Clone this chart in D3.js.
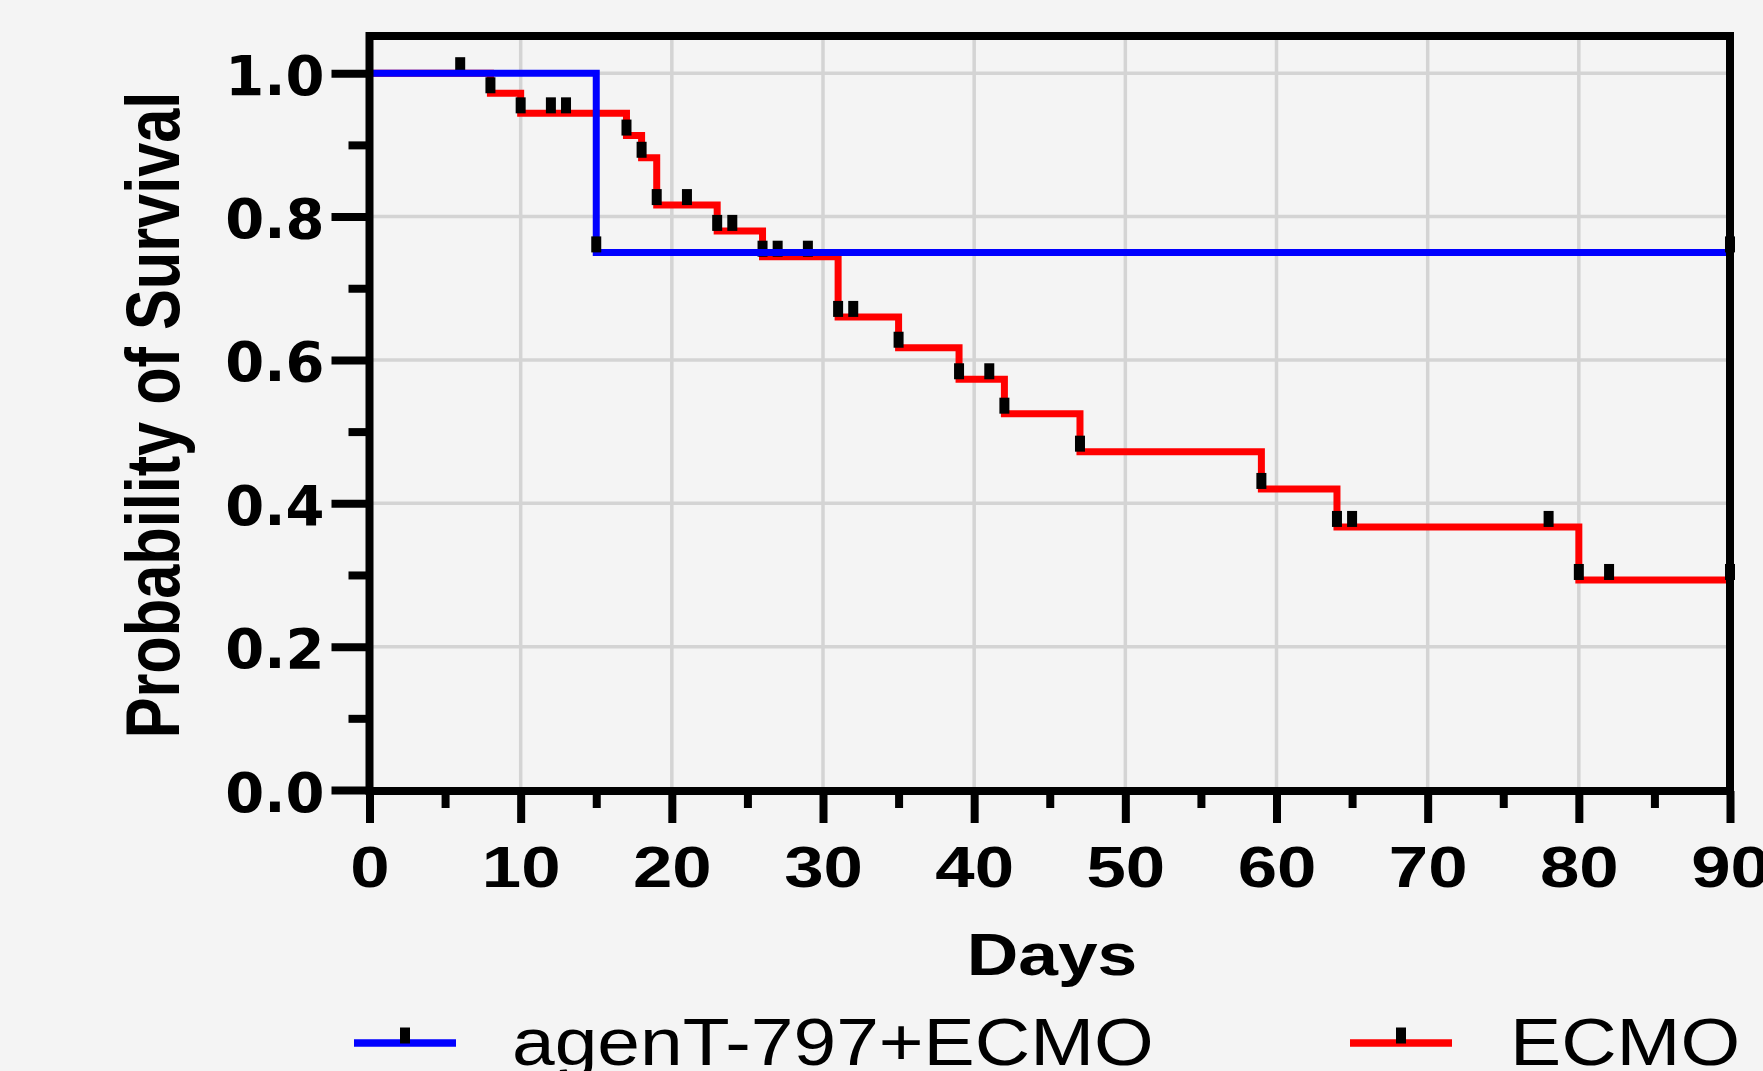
<!DOCTYPE html>
<html>
<head>
<meta charset="utf-8">
<script src="https://cdn.jsdelivr.net/npm/d3@7"></script>
<style>
	html, body { margin: 0; padding: 0; background: #f4f4f4; }
	svg { display: block; }
</style>
</head>
<body>
<svg id="chart"></svg>
<script>
// data (day of each step, survival after the step)
const ecmoDays = [0, 8, 10, 17, 18, 19, 23, 26, 31, 35, 39, 42, 47, 59, 64, 80, 90];
const ecmoSurv = [1, 0.972, 0.944, 0.913, 0.882, 0.816, 0.780, 0.744, 0.660, 0.617, 0.573, 0.525, 0.472, 0.420, 0.367, 0.293, 0.293];
const ecmoCensor = [6, 8, 10, 12, 13, 17, 18, 19, 21, 23, 24, 26, 27, 29, 31, 32, 35, 39, 41, 42, 47, 59, 64, 65, 78, 80, 82, 90];

const agentDays = [0, 15, 90];
const agentSurv = [1, 0.75, 0.75];
const agentCensor = [15, 90];

const xTicks = [0, 10, 20, 30, 40, 50, 60, 70, 80, 90];
const xMinor = [5, 15, 25, 35, 45, 55, 65, 75, 85];
const yTicks = [0, 0.2, 0.4, 0.6, 0.8, 1.0];
const yMinor = [0.1, 0.3, 0.5, 0.7, 0.9];

const seriesNames = ["agenT-797+ECMO", "ECMO"];
const seriesColors = ["#0000ff", "#ff0000"];

//canvas
const [w, h] = [1763, 1071];
const svg = d3.select("#chart").attr("width", w).attr("height", h);

//scales
const x = d3.scaleLinear().domain([0, 90]).range([369.5, 1730]);
const y = d3.scaleLinear().domain([0, 1]).range([790, 73.2]);
const frameTop = 36, frameBottom = 791;

//grid
svg.append("g").selectAll("line").data(xTicks.filter(d => d > 0 && d < 90)).enter().append("line")
	.attr("x1", d => x(d)).attr("x2", d => x(d)).attr("y1", frameTop).attr("y2", frameBottom)
	.attr("stroke", "#d4d4d4").attr("stroke-width", 3.5);
svg.append("g").selectAll("line").data(yTicks.filter(d => d > 0)).enter().append("line")
	.attr("x1", x(0)).attr("x2", x(90)).attr("y1", d => y(d)).attr("y2", d => y(d))
	.attr("stroke", "#d4d4d4").attr("stroke-width", 3.5);

//step curves
const stepLine = d3.line().x(d => x(d[0])).y(d => y(d[1])).curve(d3.curveStepAfter);
const survAt = (days, surv, t) => {
	let v = surv[0];
	days.forEach((d, i) => { if (d <= t) v = surv[i]; });
	return v;
};

function drawSeries(days, surv, censor, color){
	svg.append("path").datum(days.map((d, i) => [d, surv[i]]))
		.attr("d", stepLine).attr("fill", "none")
		.attr("stroke", color).attr("stroke-width", 7).attr("stroke-linejoin", "miter");
	svg.append("g").selectAll("rect").data(censor).enter().append("rect")
		.attr("x", d => x(d) - 5).attr("y", d => y(survAt(days, surv, d)) - 16)
		.attr("width", 10).attr("height", 16).attr("fill", "#000");
}
drawSeries(ecmoDays, ecmoSurv, ecmoCensor, seriesColors[1]);
drawSeries(agentDays, agentSurv, agentCensor, seriesColors[0]);

//frame
svg.append("rect").attr("x", x(0)).attr("y", frameTop).attr("width", x(90) - x(0)).attr("height", frameBottom - frameTop)
	.attr("fill", "none").attr("stroke", "#000").attr("stroke-width", 8);

//axes
const xAxis = svg.append("g").attr("transform", `translate(0, ${frameBottom})`)
	.call(d3.axisBottom(x).tickValues(xTicks).tickSize(32).tickFormat(d3.format("d")));
svg.append("g").attr("transform", `translate(0, ${frameBottom})`)
	.call(d3.axisBottom(x).tickValues(xMinor).tickSize(17).tickFormat(""));
const yAxis = svg.append("g").attr("transform", `translate(${x(0)}, 0)`)
	.call(d3.axisLeft(y).tickValues(yTicks).tickSize(38).tickFormat(d3.format(".1f")));
svg.append("g").attr("transform", `translate(${x(0)}, 0)`)
	.call(d3.axisLeft(y).tickValues(yMinor).tickSize(21).tickFormat(""));

svg.selectAll(".domain").remove();
svg.selectAll(".tick line").attr("stroke", "#000").attr("stroke-width", 8);

xAxis.selectAll("text")
	.attr("y", 96).attr("dy", null)
	.attr("transform", "scale(1.22,1)")
	.style("font-family", "'Liberation Sans', Arial, sans-serif").style("font-weight", "bold")
	.style("font-size", "58px").attr("fill", "#000");

yAxis.selectAll("text")
	.attr("x", -45).attr("dy", null).attr("y", 21)
	.style("font-family", "'DejaVu Sans', sans-serif").style("font-weight", "bold")
	.style("font-size", "56px").attr("fill", "#000");

//axis titles
svg.append("text").attr("transform", "translate(1052, 975) scale(1.21,1)")
	.attr("text-anchor", "middle")
	.style("font-family", "'Liberation Sans', Arial, sans-serif").style("font-weight", "bold")
	.style("font-size", "59px").text("Days");

svg.append("text").attr("transform", "translate(179, 415) rotate(-90) scale(0.806,1)")
	.attr("text-anchor", "middle")
	.style("font-family", "'Liberation Sans', Arial, sans-serif").style("font-weight", "bold")
	.style("font-size", "76px").text("Probability of Survival");

//legend
const legendX = [354, 1350];
const legendTextX = [512, 1510];
seriesNames.forEach((name, i) => {
	const g = svg.append("g");
	g.append("line").attr("x1", legendX[i]).attr("x2", legendX[i] + 102).attr("y1", 1043).attr("y2", 1043)
		.attr("stroke", seriesColors[i]).attr("stroke-width", 7.5);
	g.append("rect").attr("x", legendX[i] + 46).attr("y", 1027.5).attr("width", 10).attr("height", 16).attr("fill", "#000");
	g.append("text").attr("transform", `translate(${legendTextX[i]}, 1065) scale(1.145,1)`)
		.style("font-family", "'Liberation Sans', Arial, sans-serif")
		.style("font-size", "67px").text(name);
});
</script>
</body>
</html>
